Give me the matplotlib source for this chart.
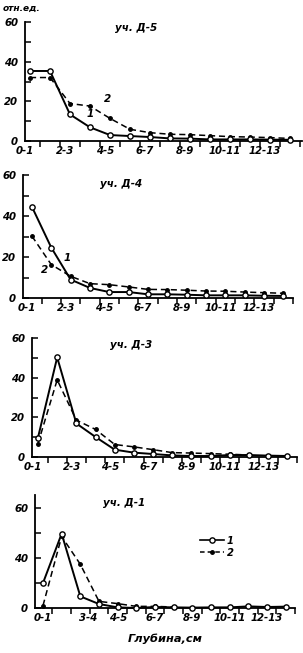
import matplotlib
matplotlib.use("Agg")
import matplotlib.pyplot as plt
import numpy as np

# depth layers 0-1 ... 13-14 cm
depth_idx = np.arange(14)
tick_labels = ["0-1", "2-3", "4-5", "6-7", "8-9", "10-11", "12-13"]
tick_labels_d1 = ["0-1", "3-4", "4-5", "6-7", "8-9", "10-11", "12-13"]

d5_s1 = [35.3, 35.3, 13.4, 6.9, 3.0, 2.5, 2.0, 1.3, 1.2, 0.8, 0.8, 0.8, 0.7, 0.6]
d5_s2 = [32.0, 32.0, 18.9, 17.6, 11.4, 5.9, 4.2, 3.4, 3.2, 2.7, 2.2, 2.0, 1.7, 1.3]

d4_s1 = [44.5, 24.6, 9.0, 4.9, 2.9, 2.9, 1.8, 1.8, 1.6, 1.3, 1.3, 1.3, 1.1, 1.0]
d4_s2 = [30.2, 16.3, 10.6, 7.0, 6.5, 5.4, 4.2, 4.1, 3.8, 3.4, 3.3, 2.9, 2.6, 2.3]

d3_s1 = [9.8, 50.2, 16.9, 10.1, 3.7, 2.2, 1.5, 0.8, 0.5, 0.5, 1.0, 1.0, 0.7, 0.5]
d3_s2 = [6.8, 38.9, 18.6, 13.9, 6.3, 5.1, 3.7, 2.2, 2.0, 1.7, 1.4, 1.0]

d1_s1 = [20.0, 59.5, 9.3, 3.2, 0.5, 0.0, 0.8, 0.5, 0.3, 0.5, 0.5, 1.3, 0.8, 1.1]
d1_s2 = [1.9, 57.3, 35.0, 5.3, 3.5, 1.3, 1.3, 0.8]

W, H = 303, 653
fnt = dict(family="DejaVu Sans", style="italic", weight="bold")

fig = plt.figure(figsize=(W / 100, H / 100), dpi=100)


def make_ax(left, right, top, bottom, x0, dx, ymax):
    ax = fig.add_axes([left / W, 1 - bottom / H, (right - left) / W, (bottom - top) / H])
    ax.set_xlim((left - x0) / dx, (right - x0) / dx)
    ax.set_ylim(0, ymax)
    for s in ["top", "right"]:
        ax.spines[s].set_visible(False)
    ax.spines["left"].set_linewidth(1.3)
    ax.spines["bottom"].set_linewidth(1.3)
    ax.set_xticks(np.arange(0.5, 14, 1), minor=True)
    ax.tick_params(axis="x", which="minor", direction="out", length=4, width=1.1)
    ax.tick_params(axis="x", which="major", length=0, pad=3.5)
    ax.tick_params(axis="y", which="both", direction="in", length=4, width=1.1, pad=5)
    return ax


def draw(ax, s1, s2):
    ax.plot(depth_idx[:len(s1)], s1, "-", color="black", lw=1.4, marker="o",
            ms=3.8, mfc="white", mec="black", mew=1.0, clip_on=False, zorder=3)
    ax.plot(depth_idx[:len(s2)], s2, "--", color="black", lw=1.1, marker="o",
            ms=2.5, mfc="black", mec="black", dashes=(4, 2.5), clip_on=False, zorder=2)


def style_ticks(ax, labels, pos, yt, ytl):
    ax.set_xticks(pos)
    ax.set_xticklabels(labels, fontsize=7.3, **fnt)
    ax.set_yticks(yt)
    ax.set_yticklabels(ytl, fontsize=7.3, **fnt)
    ax.set_yticks(np.arange(10, yt[-1], 20), minor=True)


lab_pos = np.arange(0, 14, 2) - 0.25

# Д-5
ax1 = make_ax(25, 302, 22, 141, 30, 20, 60)
draw(ax1, d5_s1, d5_s2)
style_ticks(ax1, tick_labels, lab_pos, [0, 20, 40, 60], ["0", "20", "40", "60"])
ax1.text(0.325, 0.925, "уч. Д-5", transform=ax1.transAxes, fontsize=7.5, **fnt)
ax1.text(2.85, 12, "1", fontsize=7.5, **fnt)
ax1.text(3.7, 19.5, "2", fontsize=7.5, **fnt)

# Д-4
ax2 = make_ax(23, 293, 175, 298, 32, 19.5, 60)
draw(ax2, d4_s1, d4_s2)
style_ticks(ax2, tick_labels, lab_pos, [0, 20, 40, 60], ["0", "20", "40", "60"])
ax2.text(0.285, 0.9, "уч. Д-4", transform=ax2.transAxes, fontsize=7.5, **fnt)
ax2.text(1.65, 18, "1", fontsize=7.5, **fnt)
ax2.text(0.45, 12, "2", fontsize=7.5, **fnt)

# Д-3
ax3 = make_ax(32, 297, 338, 457, 38, 19.2, 60)
draw(ax3, d3_s1, d3_s2)
style_ticks(ax3, tick_labels, lab_pos, [0, 20, 40, 60], ["0", "20", "40", "60"])
ax3.text(0.294, 0.92, "уч. Д-3", transform=ax3.transAxes, fontsize=7.5, **fnt)

# Д-1
ax4 = make_ax(35, 295, 495, 608, 43, 18.7, 90.5)
draw(ax4, d1_s1, d1_s2)
style_ticks(ax4, tick_labels_d1, [0, 2.4, 4, 6, 8, 10, 12],
            [0, 20, 40, 60, 80], ["0", "", "40", "", "60"])
ax4.set_yticks([], minor=True)
ax4.text(0.26, 0.9, "уч. Д-1", transform=ax4.transAxes, fontsize=7.5, **fnt)
ax4.set_xlabel("Глубина,см", fontsize=8.2, labelpad=8, **fnt)
h1, = ax4.plot([], [], "-", color="black", lw=1.2, marker="o", ms=3.8,
               mfc="white", mec="black")
h2, = ax4.plot([], [], "--", color="black", lw=1.1, marker="o", ms=2.5,
               mfc="black", dashes=(3, 2))
ax4.legend([h1, h2], ["1", "2"], loc="upper left", bbox_to_anchor=(0.6, 0.72),
           frameon=False, handlelength=2.4, handletextpad=0.3, labelspacing=0.2,
           prop=dict(size=7.2, style="italic", weight="bold"))

fig.text(3 / W, 1 - 11 / H, "отн.ед.", fontsize=6.5, **fnt)

fig.savefig("out.png", dpi=100)
